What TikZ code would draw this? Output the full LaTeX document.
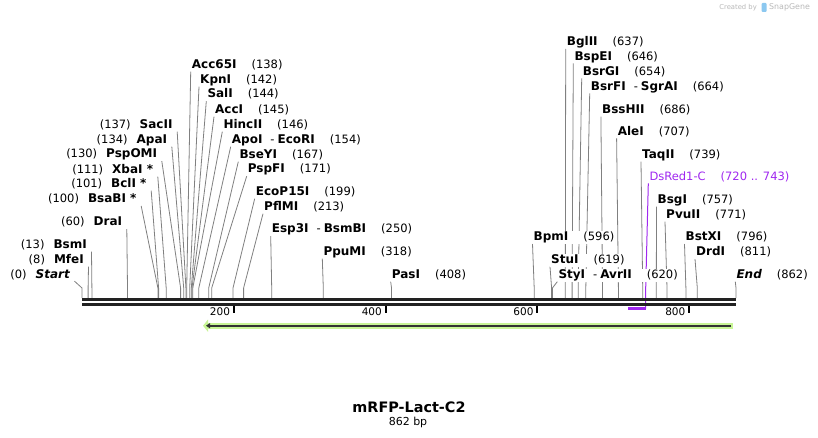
\documentclass[tikz,border=0pt]{standalone}
\usepackage{fontspec}
\setmainfont{DejaVu Sans}
\usetikzlibrary{backgrounds,arrows.meta}

\definecolor{sitegray}{RGB}{128,128,128}
\definecolor{featpurple}{RGB}{160,40,240}
\definecolor{orfgreen}{RGB}{200,245,150}
\definecolor{orfdark}{RGB}{51,51,51}
\definecolor{bardark}{RGB}{34,34,34}
\definecolor{logogray}{RGB}{185,185,185}
\definecolor{logoblue}{RGB}{140,200,240}

\newcommand{\enz}[1]{{\fontsize{12}{13}\selectfont\bfseries #1}}

\tikzset{rlabel/.style = {anchor = west,
                          fill = white,
                          inner xsep = 1pt,
                          inner ysep = 1pt,
                          text height = 9pt,
                          text depth = 2pt,
                          font = \fontsize{11.5}{13}\selectfont},
         llabel/.style = {rlabel,
                          anchor = east,
                          inner xsep = 4.5pt},
         cutline/.style = {draw = sitegray, line width = 0.8pt},
         featline/.style = {draw = featpurple, line width = 1pt},
         seqbar/.style = {draw = bardark, line width = 2.6pt},
         tickmark/.style = {draw = black, line width = 2pt},
         ticklabel/.style = {anchor = east, inner sep = 0pt,
                             font = \fontsize{10.5}{12}\selectfont},
         orfband/.style = {draw = orfgreen, line width = 6pt,
                           -{Triangle[length = 5pt, width = 12pt]}},
         orfline/.style = {draw = orfdark, line width = 1.8pt,
                           -{Triangle[length = 4pt, width = 5pt]}},
         logo/.style = {text = logogray, inner sep = 0pt}}

\begin{document}
\begin{tikzpicture}[x=1pt, y=-1pt]
\useasboundingbox (0,0) rectangle (818,438);

% logo
\node[logo, anchor = east, font = \fontsize{6.8}{8}\selectfont] (createdby) at (757,7.3) {Created by};
\fill[logoblue, rounded corners = 1pt] (761.7,3) rectangle (766.5,12);
\node[logo, anchor = west, font = \fontsize{7.9}{9}\selectfont] (snapgene) at (769,7.3) {SnapGene};

% labels left of their sites
\node[llabel] (start) at (74.5,274.5) {(0)\hspace{9pt}\enz{\itshape Start}};
\node[llabel] (mfei) at (88.5,260) {(8)\hspace{9pt}\enz{MfeI}};
\node[llabel] (bsmi) at (91.5,245) {(13)\hspace{9pt}\enz{BsmI}};
\node[llabel] (drai) at (126.8,222.3) {(60)\hspace{9pt}\enz{DraI}};
\node[llabel] (bsabi) at (141.2,199.3) {(100)\hspace{9pt}\enz{BsaBI *}};
\node[llabel] (bcli) at (151.2,184) {(101)\hspace{9pt}\enz{BclI *}};
\node[llabel] (xbai) at (157.8,170) {(111)\hspace{9pt}\enz{XbaI *}};
\node[llabel] (pspomi) at (161.8,154.5) {(130)\hspace{9pt}\enz{PspOMI}};
\node[llabel] (apai) at (171.8,140) {(134)\hspace{9pt}\enz{ApaI}};
\node[llabel] (sacii) at (177.2,125) {(137)\hspace{9pt}\enz{SacII}};

% labels right of their sites
\node[rlabel] (acc65i) at (190.7,65) {\enz{Acc65I}\hspace{15pt}(138)};
\node[rlabel] (kpni) at (199,80) {\enz{KpnI}\hspace{15pt}(142)};
\node[rlabel] (sali) at (206.3,94.5) {\enz{SalI}\hspace{15pt}(144)};
\node[rlabel] (acci) at (214,110) {\enz{AccI}\hspace{15pt}(145)};
\node[rlabel] (hincii) at (222.3,125) {\enz{HincII}\hspace{15pt}(146)};
\node[rlabel] (apoi) at (230.7,140) {\enz{ApoI}\hspace{8pt}-\hspace{3pt}\enz{EcoRI}\hspace{15pt}(154)};
\node[rlabel] (bseyi) at (238.3,155) {\enz{BseYI}\hspace{15pt}(167)};
\node[rlabel] (pspfi) at (246.7,169.5) {\enz{PspFI}\hspace{15pt}(171)};
\node[rlabel] (ecop15i) at (254.7,192) {\enz{EcoP15I}\hspace{15pt}(199)};
\node[rlabel] (pflmi) at (263,207) {\enz{PflMI}\hspace{15pt}(213)};
\node[rlabel] (esp3i) at (270.7,229.5) {\enz{Esp3I}\hspace{8pt}-\hspace{3pt}\enz{BsmBI}\hspace{15pt}(250)};
\node[rlabel] (ppumi) at (322.3,252) {\enz{PpuMI}\hspace{15pt}(318)};
\node[rlabel] (pasi) at (390.7,275) {\enz{PasI}\hspace{15pt}(408)};
\node[rlabel] (bpmi) at (532.5,237.3) {\enz{BpmI}\hspace{15pt}(596)};
\node[rlabel] (stui) at (550,260) {\enz{StuI}\hspace{15pt}(619)};
\node[rlabel] (styi) at (557.3,275) {\enz{StyI}\hspace{8pt}-\hspace{3pt}\enz{AvrII}\hspace{15pt}(620)};
\node[rlabel] (bglii) at (565.7,42.3) {\enz{BglII}\hspace{15pt}(637)};
\node[rlabel] (bspei) at (573.3,56.7) {\enz{BspEI}\hspace{15pt}(646)};
\node[rlabel] (bsrgi) at (581.7,71.7) {\enz{BsrGI}\hspace{15pt}(654)};
\node[rlabel] (bsrfi) at (589.7,86.7) {\enz{BsrFI}\hspace{8pt}-\hspace{3pt}\enz{SgrAI}\hspace{15pt}(664)};
\node[rlabel] (bsshii) at (600.9,110) {\enz{BssHII}\hspace{15pt}(686)};
\node[rlabel] (alei) at (616.6,131.7) {\enz{AleI}\hspace{15pt}(707)};
\node[rlabel] (taqii) at (641,155) {\enz{TaqII}\hspace{15pt}(739)};
\node[rlabel, text = featpurple] (dsred) at (648.3,176.7) {DsRed1-C\hspace{15pt}(720 .. 743)};
\node[rlabel] (bsgi) at (656.5,200) {\enz{BsgI}\hspace{15pt}(757)};
\node[rlabel] (pvuii) at (665,215) {\enz{PvuII}\hspace{15pt}(771)};
\node[rlabel] (bstxi) at (684.5,237.3) {\enz{BstXI}\hspace{15pt}(796)};
\node[rlabel] (drdi) at (695,252.3) {\enz{DrdI}\hspace{15pt}(811)};
\node[rlabel] (endlbl) at (735.3,275) {\enz{\itshape End}\hspace{15pt}(862)};

% sites on the sequence
\coordinate (bend) at (0,288);
\coordinate (start-s) at (82,298);
\coordinate (mfei-s) at (88.1,298);
\coordinate (bsmi-s) at (91.9,298);
\coordinate (drai-s) at (127.5,298);
\coordinate (bsabi-s) at (157.9,298);
\coordinate (bcli-s) at (158.6,298);
\coordinate (xbai-s) at (166.2,298);
\coordinate (pspomi-s) at (180.6,298);
\coordinate (apai-s) at (183.7,298);
\coordinate (sacii-s) at (185.9,298);
\coordinate (acc65i-s) at (186.7,298);
\coordinate (kpni-s) at (189.7,298);
\coordinate (sali-s) at (191.3,298);
\coordinate (acci-s) at (192,298);
\coordinate (hincii-s) at (192.8,298);
\coordinate (apoi-s) at (198.8,298);
\coordinate (bseyi-s) at (208.7,298);
\coordinate (pspfi-s) at (211.7,298);
\coordinate (ecop15i-s) at (233,298);
\coordinate (pflmi-s) at (243.6,298);
\coordinate (esp3i-s) at (271.7,298);
\coordinate (ppumi-s) at (323.3,298);
\coordinate (pasi-s) at (391.5,298);
\coordinate (bpmi-s) at (534.2,298);
\coordinate (stui-s) at (551.6,298);
\coordinate (styi-s) at (552.4,298);
\coordinate (bglii-s) at (565.3,298);
\coordinate (bspei-s) at (572.1,298);
\coordinate (bsrgi-s) at (578.2,298);
\coordinate (bsrfi-s) at (585.8,298);
\coordinate (bsshii-s) at (602.5,298);
\coordinate (alei-s) at (618.4,298);
\coordinate (taqii-s) at (642.7,298);
\coordinate (dsred-s) at (645.7,298);
\coordinate (dsred-e) at (645.7,308.6);
\coordinate (dsred-b) at (628.3,308.6);
\coordinate (bsgi-s) at (656.3,298);
\coordinate (pvuii-s) at (667,298);
\coordinate (bstxi-s) at (685.9,298);
\coordinate (drdi-s) at (697.3,298);
\coordinate (endlbl-s) at (736,298);

% sequence and scale
\draw[seqbar] (82,299.5) -- (736,299.5);
\draw[seqbar] (82,304.3) -- (736,304.3);
\draw[tickmark] (233.7,305.5) -- (233.7,313);
\draw[tickmark] (385.5,305.5) -- (385.5,313);
\draw[tickmark] (537.2,305.5) -- (537.2,313);
\draw[tickmark] (689,305.5) -- (689,313);
\node[ticklabel] (t200) at (230.2,312) {200};
\node[ticklabel] (t400) at (382,312) {400};
\node[ticklabel] (t600) at (533.7,312) {600};
\node[ticklabel] (t800) at (685.5,312) {800};

% feature and orf
\draw[featpurple, line width = 2.5pt] (dsred-b) -- (dsred-e);
\coordinate (orf-r) at (733,325.7);
\coordinate (orf-l) at (203,325.7);
\coordinate (orfline-r) at (731,325.7);
\coordinate (orfline-l) at (206,325.7);
\draw[orfband] (orf-r) -- (orf-l);
\draw[orfline] (orfline-r) -- (orfline-l);

% name and size
\node[font = \bfseries\fontsize{14.4}{16}\selectfont] (title) at (409,407.7) {mRFP-Lact-C2};
\node[font = \fontsize{11}{13}\selectfont] (size) at (408,422.7) {862 bp};

\begin{scope}[on background layer]
\fill[white] (0,0) rectangle (818,438);
\draw[cutline] (start.south east) -- (start-s |- bend) -- (start-s);
\draw[cutline] (mfei.south east) -- (mfei-s |- bend) -- (mfei-s);
\draw[cutline] (bsmi.south east) -- (bsmi-s |- bend) -- (bsmi-s);
\draw[cutline] (drai.south east) -- (drai-s |- bend) -- (drai-s);
\draw[cutline] (bsabi.south east) -- (bsabi-s |- bend) -- (bsabi-s);
\draw[cutline] (bcli.south east) -- (bcli-s |- bend) -- (bcli-s);
\draw[cutline] (xbai.south east) -- (xbai-s |- bend) -- (xbai-s);
\draw[cutline] (pspomi.south east) -- (pspomi-s |- bend) -- (pspomi-s);
\draw[cutline] (apai.south east) -- (apai-s |- bend) -- (apai-s);
\draw[cutline] (sacii.south east) -- (sacii-s |- bend) -- (sacii-s);
\draw[cutline] (acc65i.south west) -- (acc65i-s |- bend) -- (acc65i-s);
\draw[cutline] (kpni.south west) -- (kpni-s |- bend) -- (kpni-s);
\draw[cutline] (sali.south west) -- (sali-s |- bend) -- (sali-s);
\draw[cutline] (acci.south west) -- (acci-s |- bend) -- (acci-s);
\draw[cutline] (hincii.south west) -- (hincii-s |- bend) -- (hincii-s);
\draw[cutline] (apoi.south west) -- (apoi-s |- bend) -- (apoi-s);
\draw[cutline] (bseyi.south west) -- (bseyi-s |- bend) -- (bseyi-s);
\draw[cutline] (pspfi.south west) -- (pspfi-s |- bend) -- (pspfi-s);
\draw[cutline] (ecop15i.south west) -- (ecop15i-s |- bend) -- (ecop15i-s);
\draw[cutline] (pflmi.south west) -- (pflmi-s |- bend) -- (pflmi-s);
\draw[cutline] (esp3i.south west) -- (esp3i-s |- bend) -- (esp3i-s);
\draw[cutline] (ppumi.south west) -- (ppumi-s |- bend) -- (ppumi-s);
\draw[cutline] (pasi.south west) -- (pasi-s |- bend) -- (pasi-s);
\draw[cutline] (bpmi.south west) -- (bpmi-s |- bend) -- (bpmi-s);
\draw[cutline] (stui.south west) -- (stui-s |- bend) -- (stui-s);
\draw[cutline] (styi.south west) -- (styi-s |- bend) -- (styi-s);
\draw[cutline] (bglii.south west) -- (bglii-s |- bend) -- (bglii-s);
\draw[cutline] (bspei.south west) -- (bspei-s |- bend) -- (bspei-s);
\draw[cutline] (bsrgi.south west) -- (bsrgi-s |- bend) -- (bsrgi-s);
\draw[cutline] (bsrfi.south west) -- (bsrfi-s |- bend) -- (bsrfi-s);
\draw[cutline] (bsshii.south west) -- (bsshii-s |- bend) -- (bsshii-s);
\draw[cutline] (alei.south west) -- (alei-s |- bend) -- (alei-s);
\draw[cutline] (taqii.south west) -- (taqii-s |- bend) -- (taqii-s);
\draw[featline] (dsred.south west) -- (dsred-s |- bend) -- (dsred-e);
\draw[cutline] (bsgi.south west) -- (bsgi-s |- bend) -- (bsgi-s);
\draw[cutline] (pvuii.south west) -- (pvuii-s |- bend) -- (pvuii-s);
\draw[cutline] (bstxi.south west) -- (bstxi-s |- bend) -- (bstxi-s);
\draw[cutline] (drdi.south west) -- (drdi-s |- bend) -- (drdi-s);
\draw[cutline] (endlbl.south west) -- (endlbl-s |- bend) -- (endlbl-s);
\end{scope}
\end{tikzpicture}
\end{document}
